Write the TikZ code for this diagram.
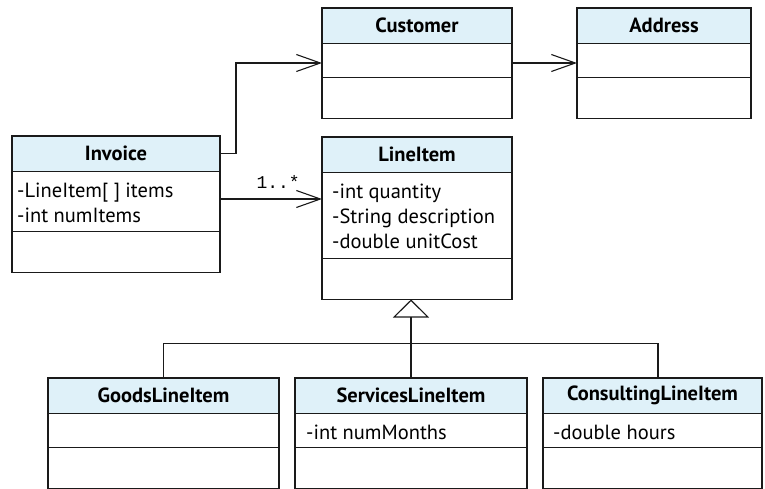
\documentclass[tikz,border=0pt]{standalone}
\usepackage{fontspec}
\setmainfont{PT Sans}
\setmonofont{Liberation Mono}
\usetikzlibrary{arrows.meta,calc}
\definecolor{hdrfill}{HTML}{DFF1F9}
\definecolor{ink}{HTML}{1A1A1A}

\tikzset{
  classpart/.style={draw=ink, line width=1.1pt, rectangle, inner sep=0pt, outer sep=0pt},
  hdrbox/.style={classpart, fill=hdrfill, minimum height=35.5pt,
    font=\fontsize{20.5}{25}\selectfont\bfseries},
  compbox/.style={classpart, fill=white},
  membertext/.style={anchor=base west, inner sep=0pt,
    font=\fontsize{20.5}{25}\selectfont},
  assoc/.style={draw=ink, line width=1.1pt,
    -{Straight Barb[length=24pt,width=17pt,line width=1.1pt]}},
  gen/.style={draw=ink, line width=1.1pt},
  multlabel/.style={font=\fontsize{18}{20}\selectfont\ttfamily, anchor=base east, inner sep=0pt}
}

% member lines stacked from the first line's baseline downwards
\newcommand\mlines[1]{\vtop{#1}}
\newcommand\mline[1]{\hbox{#1}}

% \umlclass{name}{left}{top}{width}{title}{attribute height}{operation height}{attributes}{text inset}
\newcommand\umlclass[9]{%
  \node[hdrbox, minimum width=#4pt, anchor=north west] (#1) at (#2pt,-#3pt) {#5};
  \node[compbox, minimum width=#4pt, minimum height=#6pt, anchor=north] (#1-a) at (#1.south) {};
  \node[compbox, minimum width=#4pt, minimum height=#7pt, anchor=north] (#1-o) at (#1-a.south) {};
  \node[membertext] (#1-t) at ([xshift=#9pt,yshift=-25.5pt]#1-a.north west) {\mlines{#8}};
}

\begin{document}
\begin{tikzpicture}[x=1pt,y=1pt]
  \useasboundingbox (0,0) rectangle (765,-489);

  \umlclass{cust}{322}{8}{190}{Customer}{34}{41}{}{10}
  \umlclass{addr}{577}{8}{174}{Address}{34}{41}{}{10}
  \umlclass{inv}{12}{136}{208}{Invoice}{60}{41}{\mline{-LineItem[ ] items}\mline{-int numItems}}{5}
  \umlclass{line}{322}{137}{190}{LineItem}{86}{41}{\mline{-int quantity}\mline{-String description}\mline{-double unitCost}}{10}
  \umlclass{goods}{48}{378}{231}{GoodsLineItem}{34}{41}{}{10}
  \umlclass{serv}{295}{378}{232}{ServicesLineItem}{34}{41}{\mline{-int numMonths}}{11}
  \umlclass{cons}{543}{378}{219}{ConsultingLineItem}{34}{41}{\mline{-double hours}}{10}

  % associations
  \draw[assoc] (inv.east) -- ++(16,0) |- ([yshift=-2.5pt]cust-a.west);
  \draw[assoc] ([yshift=-2.5pt]cust-a.east) -- ([yshift=-2.5pt]addr-a.west);
  \draw[assoc] ([yshift=2.5pt]inv-a.east) -- coordinate[pos=1] (multend)
    ([yshift=2.5pt]inv-a.east -| line-a.west);
  \node[multlabel] (mult) at ([xshift=-22pt,yshift=10pt]multend) {1..*};

  % generalization
  \coordinate (bar) at ($(line-o.south)+(0,-44)$);
  \draw[gen] (goods.north) -- (goods.north |- bar) -- ([xshift=5.5pt]cons.north |- bar)
    -- ([xshift=5.5pt]cons.north);
  \draw[gen, -{Triangle[open, length=18pt, width=36pt, line width=1.1pt]}]
    (serv.north) -- (serv.north |- line-o.south);
\end{tikzpicture}
\end{document}
